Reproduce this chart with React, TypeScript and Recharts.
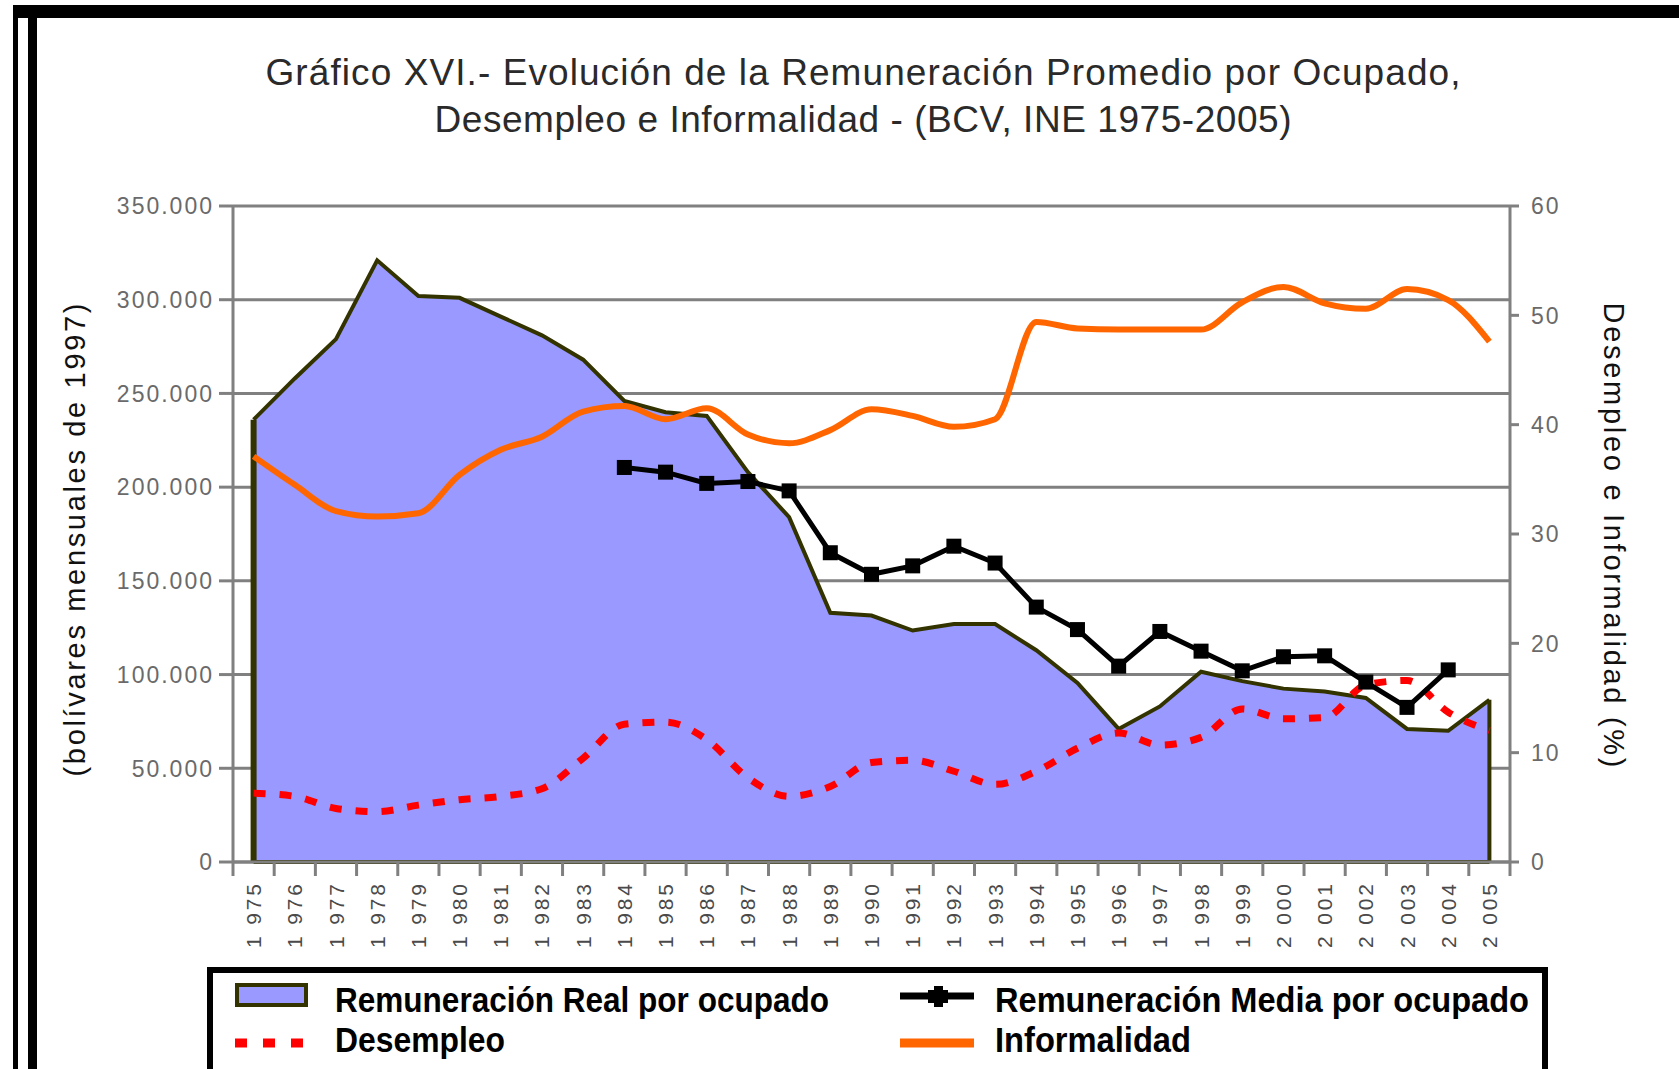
import {
  Area,
  CartesianGrid,
  ComposedChart,
  Legend,
  Line,
  ReferenceLine,
  XAxis,
  YAxis,
} from "recharts";

const W = 1679;
const H = 1069;
const PLOT_LEFT = 233;
const PLOT_RIGHT = 1510;
const PLOT_TOP = 206;
const PLOT_BOTTOM = 862;

const GRAY = "#808080";
const OLIVE = "#333300";
const AREA_FILL = "#9999ff";
const ORANGE = "#ff6600";
const RED = "#ff0000";
const FONT = "'Liberation Sans', Arial, sans-serif";

const YEARS = [
  "1975", "1976", "1977", "1978", "1979", "1980", "1981", "1982", "1983", "1984",
  "1985", "1986", "1987", "1988", "1989", "1990", "1991", "1992", "1993", "1994",
  "1995", "1996", "1997", "1998", "1999", "2000", "2001", "2002", "2003", "2004", "2005",
];

// Remuneración real por ocupado (bolívares de 1997)
const REAL = [
  236000, 258000, 279000, 321000, 302000, 301000, 291000, 281000, 268000, 246000,
  240000, 238000, 208000, 184000, 133000, 131500, 123500, 127000, 127000, 113000,
  95500, 71000, 83000, 101500, 96500, 92500, 91000, 87500, 71000, 70000, 86500,
];

// Remuneración media por ocupado (solo 1984-2004)
const MEDIA = [
  null, null, null, null, null, null, null, null, null, 210500,
  208000, 202000, 203000, 198000, 165000, 153500, 158000, 168500, 159500, 136000,
  124000, 104500, 123000, 112500, 102000, 109500, 110000, 96000, 82500, 102500, null,
];

// Desempleo (%)
const DESEMPLEO = [
  6.3, 6.0, 4.9, 4.6, 5.2, 5.7, 6.0, 6.7, 9.5, 12.6,
  12.8, 11.2, 7.7, 6.0, 6.9, 9.1, 9.3, 8.3, 7.1, 8.3,
  10.4, 11.8, 10.7, 11.4, 14.0, 13.1, 13.2, 16.2, 16.6, 13.7, 12.0,
];

// Informalidad (%)
const INFORMAL = [
  37.1, 34.5, 32.1, 31.6, 31.9, 35.4, 37.7, 38.9, 41.2, 41.7,
  40.5, 41.5, 39.1, 38.3, 39.5, 41.4, 40.8, 39.8, 40.5, 49.4,
  48.8, 48.7, 48.7, 48.7, 51.2, 52.6, 51.1, 50.6, 52.4, 51.4, 47.6,
];

const LEFT_TICKS = [0, 50000, 100000, 150000, 200000, 250000, 300000, 350000];
const RIGHT_TICKS = [0, 10, 20, 30, 40, 50, 60];

const rows = YEARS.map((year, i) => ({
  year,
  real: REAL[i],
  media: MEDIA[i],
  desempleo: DESEMPLEO[i],
  informal: INFORMAL[i],
}));

const thousands = (v: number) => String(v).replace(/\B(?=(\d{3})+(?!\d))/g, ".");
const spacedYear = (y: string) => `${y[0]} ${y.slice(1)}`;

// categorías centradas en su banda, como en Excel
const BAND = (PLOT_RIGHT - PLOT_LEFT) / YEARS.length;

function LeftTick(props: any) {
  const { x, y, payload } = props;
  return (
    <text x={x} y={y} dy="0.36em" textAnchor="end" fontFamily={FONT} fontSize={23} letterSpacing={2} fill="#6a6a6a">
      {thousands(payload.value)}
    </text>
  );
}

function RightTick(props: any) {
  const { x, y, payload } = props;
  return (
    <text x={x} y={y} dy="0.36em" textAnchor="start" fontFamily={FONT} fontSize={23} letterSpacing={2} fill="#6a6a6a">
      {payload.value}
    </text>
  );
}

function YearTick(props: any) {
  const { x, payload, index } = props;
  const half = BAND / 2;
  const top = PLOT_BOTTOM + 22;
  const last = index === YEARS.length - 1;
  return (
    <g>
      <line x1={x - half} x2={x - half} y1={PLOT_BOTTOM} y2={PLOT_BOTTOM + 14} stroke={GRAY} strokeWidth={3} />
      {last && <line x1={x + half} x2={x + half} y1={PLOT_BOTTOM} y2={PLOT_BOTTOM + 14} stroke={GRAY} strokeWidth={3} />}
      <text
        x={x}
        y={top}
        dy="0.36em"
        textAnchor="end"
        transform={`rotate(-90, ${x}, ${top})`}
        fontFamily={FONT}
        fontSize={21}
        textLength={64}
        fill="#4a4a4a"
      >
        {spacedYear(payload.value)}
      </text>
    </g>
  );
}

function SquareDot(props: any) {
  const { cx, cy, value, index } = props;
  if (value == null || cx == null || cy == null) return <g key={`d${index}`} />;
  return <rect key={`d${index}`} x={cx - 7.5} y={cy - 7.5} width={15} height={15} fill="#000" />;
}

// cuadro de leyenda, coordenadas relativas a su contenedor (left 207, top 967)
function LegendBox() {
  const txt = { fontFamily: FONT, fontWeight: 700, fontSize: 35, fill: "#000" } as const;
  return (
    <svg width={1472} height={102} style={{ display: "block" }}>
      <rect x={0} y={0} width={1341} height={6} fill="#000" />
      <rect x={0} y={0} width={6} height={102} fill="#000" />
      <rect x={1335} y={0} width={6} height={102} fill="#000" />

      <rect x={30} y={18} width={69} height={20} fill={AREA_FILL} stroke={OLIVE} strokeWidth={4} />
      <text x={128} y={45} textLength={494} lengthAdjust="spacingAndGlyphs" {...txt}>
        Remuneración Real por ocupado
      </text>

      <line x1={28} x2={98} y1={76} y2={76} stroke={RED} strokeWidth={9} strokeDasharray="12 16" />
      <text x={128} y={85} textLength={170} lengthAdjust="spacingAndGlyphs" {...txt}>
        Desempleo
      </text>

      <line x1={693} x2={767} y1={29} y2={29} stroke="#000" strokeWidth={7} />
      <rect x={721} y={23} width={20} height={13} fill="#000" />
      <rect x={727} y={19} width={9} height={21} fill="#000" />
      <text x={788} y={45} textLength={534} lengthAdjust="spacingAndGlyphs" {...txt}>
        Remuneración Media por ocupado
      </text>

      <line x1={693} x2={767} y1={76} y2={76} stroke={ORANGE} strokeWidth={9} />
      <text x={788} y={85} textLength={196} lengthAdjust="spacingAndGlyphs" {...txt}>
        Informalidad
      </text>
    </svg>
  );
}

export default function App() {
  return (
    <div style={{ position: "fixed", left: 0, top: 0, width: W, height: H, background: "#fff", overflow: "hidden" }}>
      {/* marco */}
      <div style={{ position: "absolute", left: 13, top: 5, width: W - 13, height: 13, background: "#000" }} />
      <div style={{ position: "absolute", left: 13, top: 5, width: 5, height: H, background: "#000" }} />
      <div style={{ position: "absolute", left: 28, top: 18, width: 9, height: H, background: "#000" }} />

      <div style={{ position: "absolute", left: 0, top: 0 }}>
        <ComposedChart width={W} height={H} data={rows} margin={{ top: PLOT_TOP, right: 0, left: 0, bottom: 0 }}>
          <CartesianGrid yAxisId="left" vertical={false} stroke={GRAY} strokeWidth={3} />
          <XAxis
            dataKey="year"
            interval={0}
            height={H - PLOT_BOTTOM}
            padding={{ left: BAND / 2, right: BAND / 2 }}
            tickLine={false}
            tick={<YearTick />}
            axisLine={{ stroke: GRAY, strokeWidth: 3 }}
          />
          <YAxis
            yAxisId="left"
            width={PLOT_LEFT}
            domain={[0, 350000]}
            ticks={LEFT_TICKS}
            interval={0}
            tickSize={14}
            tickMargin={5}
            tick={<LeftTick />}
            tickLine={{ stroke: GRAY, strokeWidth: 3 }}
            axisLine={{ stroke: GRAY, strokeWidth: 3 }}
          />
          <YAxis
            yAxisId="right"
            orientation="right"
            width={W - PLOT_RIGHT}
            domain={[0, 60]}
            ticks={RIGHT_TICKS}
            interval={0}
            tickSize={9}
            tickMargin={12}
            tick={<RightTick />}
            tickLine={{ stroke: GRAY, strokeWidth: 3 }}
            axisLine={{ stroke: GRAY, strokeWidth: 3 }}
          />
          <Area
            yAxisId="left"
            dataKey="real"
            type="linear"
            fill={AREA_FILL}
            fillOpacity={1}
            stroke={OLIVE}
            strokeWidth={4}
            isAnimationActive={false}
          />
          <ReferenceLine
            yAxisId="left"
            segment={[{ x: YEARS[0], y: 0 }, { x: YEARS[0], y: REAL[0] }]}
            stroke={OLIVE}
            strokeWidth={6}
          />
          <ReferenceLine
            yAxisId="left"
            segment={[{ x: YEARS[YEARS.length - 1], y: 0 }, { x: YEARS[YEARS.length - 1], y: REAL[REAL.length - 1] }]}
            stroke={OLIVE}
            strokeWidth={4}
          />
          <ReferenceLine
            yAxisId="left"
            segment={[{ x: YEARS[0], y: 0 }, { x: YEARS[YEARS.length - 1], y: 0 }]}
            stroke={OLIVE}
            strokeWidth={4}
          />
          <Line
            yAxisId="right"
            dataKey="desempleo"
            type="monotone"
            stroke={RED}
            strokeWidth={7}
            strokeDasharray="12 14"
            dot={false}
            isAnimationActive={false}
          />
          <Line
            yAxisId="left"
            dataKey="media"
            type="linear"
            stroke="#000"
            strokeWidth={5}
            dot={SquareDot}
            connectNulls={false}
            isAnimationActive={false}
          />
          <Line
            yAxisId="right"
            dataKey="informal"
            type="monotone"
            stroke={ORANGE}
            strokeWidth={6}
            dot={false}
            isAnimationActive={false}
          />
          <Legend
            layout="horizontal"
            verticalAlign="middle"
            align="center"
            content={<LegendBox />}
            wrapperStyle={{ left: 207, top: 967, width: 1472, height: 102 }}
          />
        </ComposedChart>
      </div>

      {/* títulos */}
      <svg width={W} height={H} style={{ position: "absolute", left: 0, top: 0, pointerEvents: "none" }}>
        <text x={863} y={85} textAnchor="middle" fontFamily={FONT} fontSize={37} textLength={1195} fill="#2a2a2a">
          Gráfico XVI.- Evolución de la Remuneración Promedio por Ocupado,
        </text>
        <text x={863} y={132} textAnchor="middle" fontFamily={FONT} fontSize={37} textLength={857} fill="#2a2a2a">
          Desempleo e Informalidad - (BCV, INE 1975-2005)
        </text>
        <text
          x={75}
          y={540}
          dy="0.36em"
          textAnchor="middle"
          transform="rotate(-90, 75, 540)"
          fontFamily={FONT}
          fontSize={29}
          textLength={473}
          fill="#111"
        >
          (bolívares mensuales de 1997)
        </text>
        <text
          x={1614}
          y={535}
          dy="0.36em"
          textAnchor="middle"
          transform="rotate(90, 1614, 535)"
          fontFamily={FONT}
          fontSize={29}
          textLength={465}
          fill="#111"
        >
          Desempleo e Informalidad (%)
        </text>
      </svg>
    </div>
  );
}
